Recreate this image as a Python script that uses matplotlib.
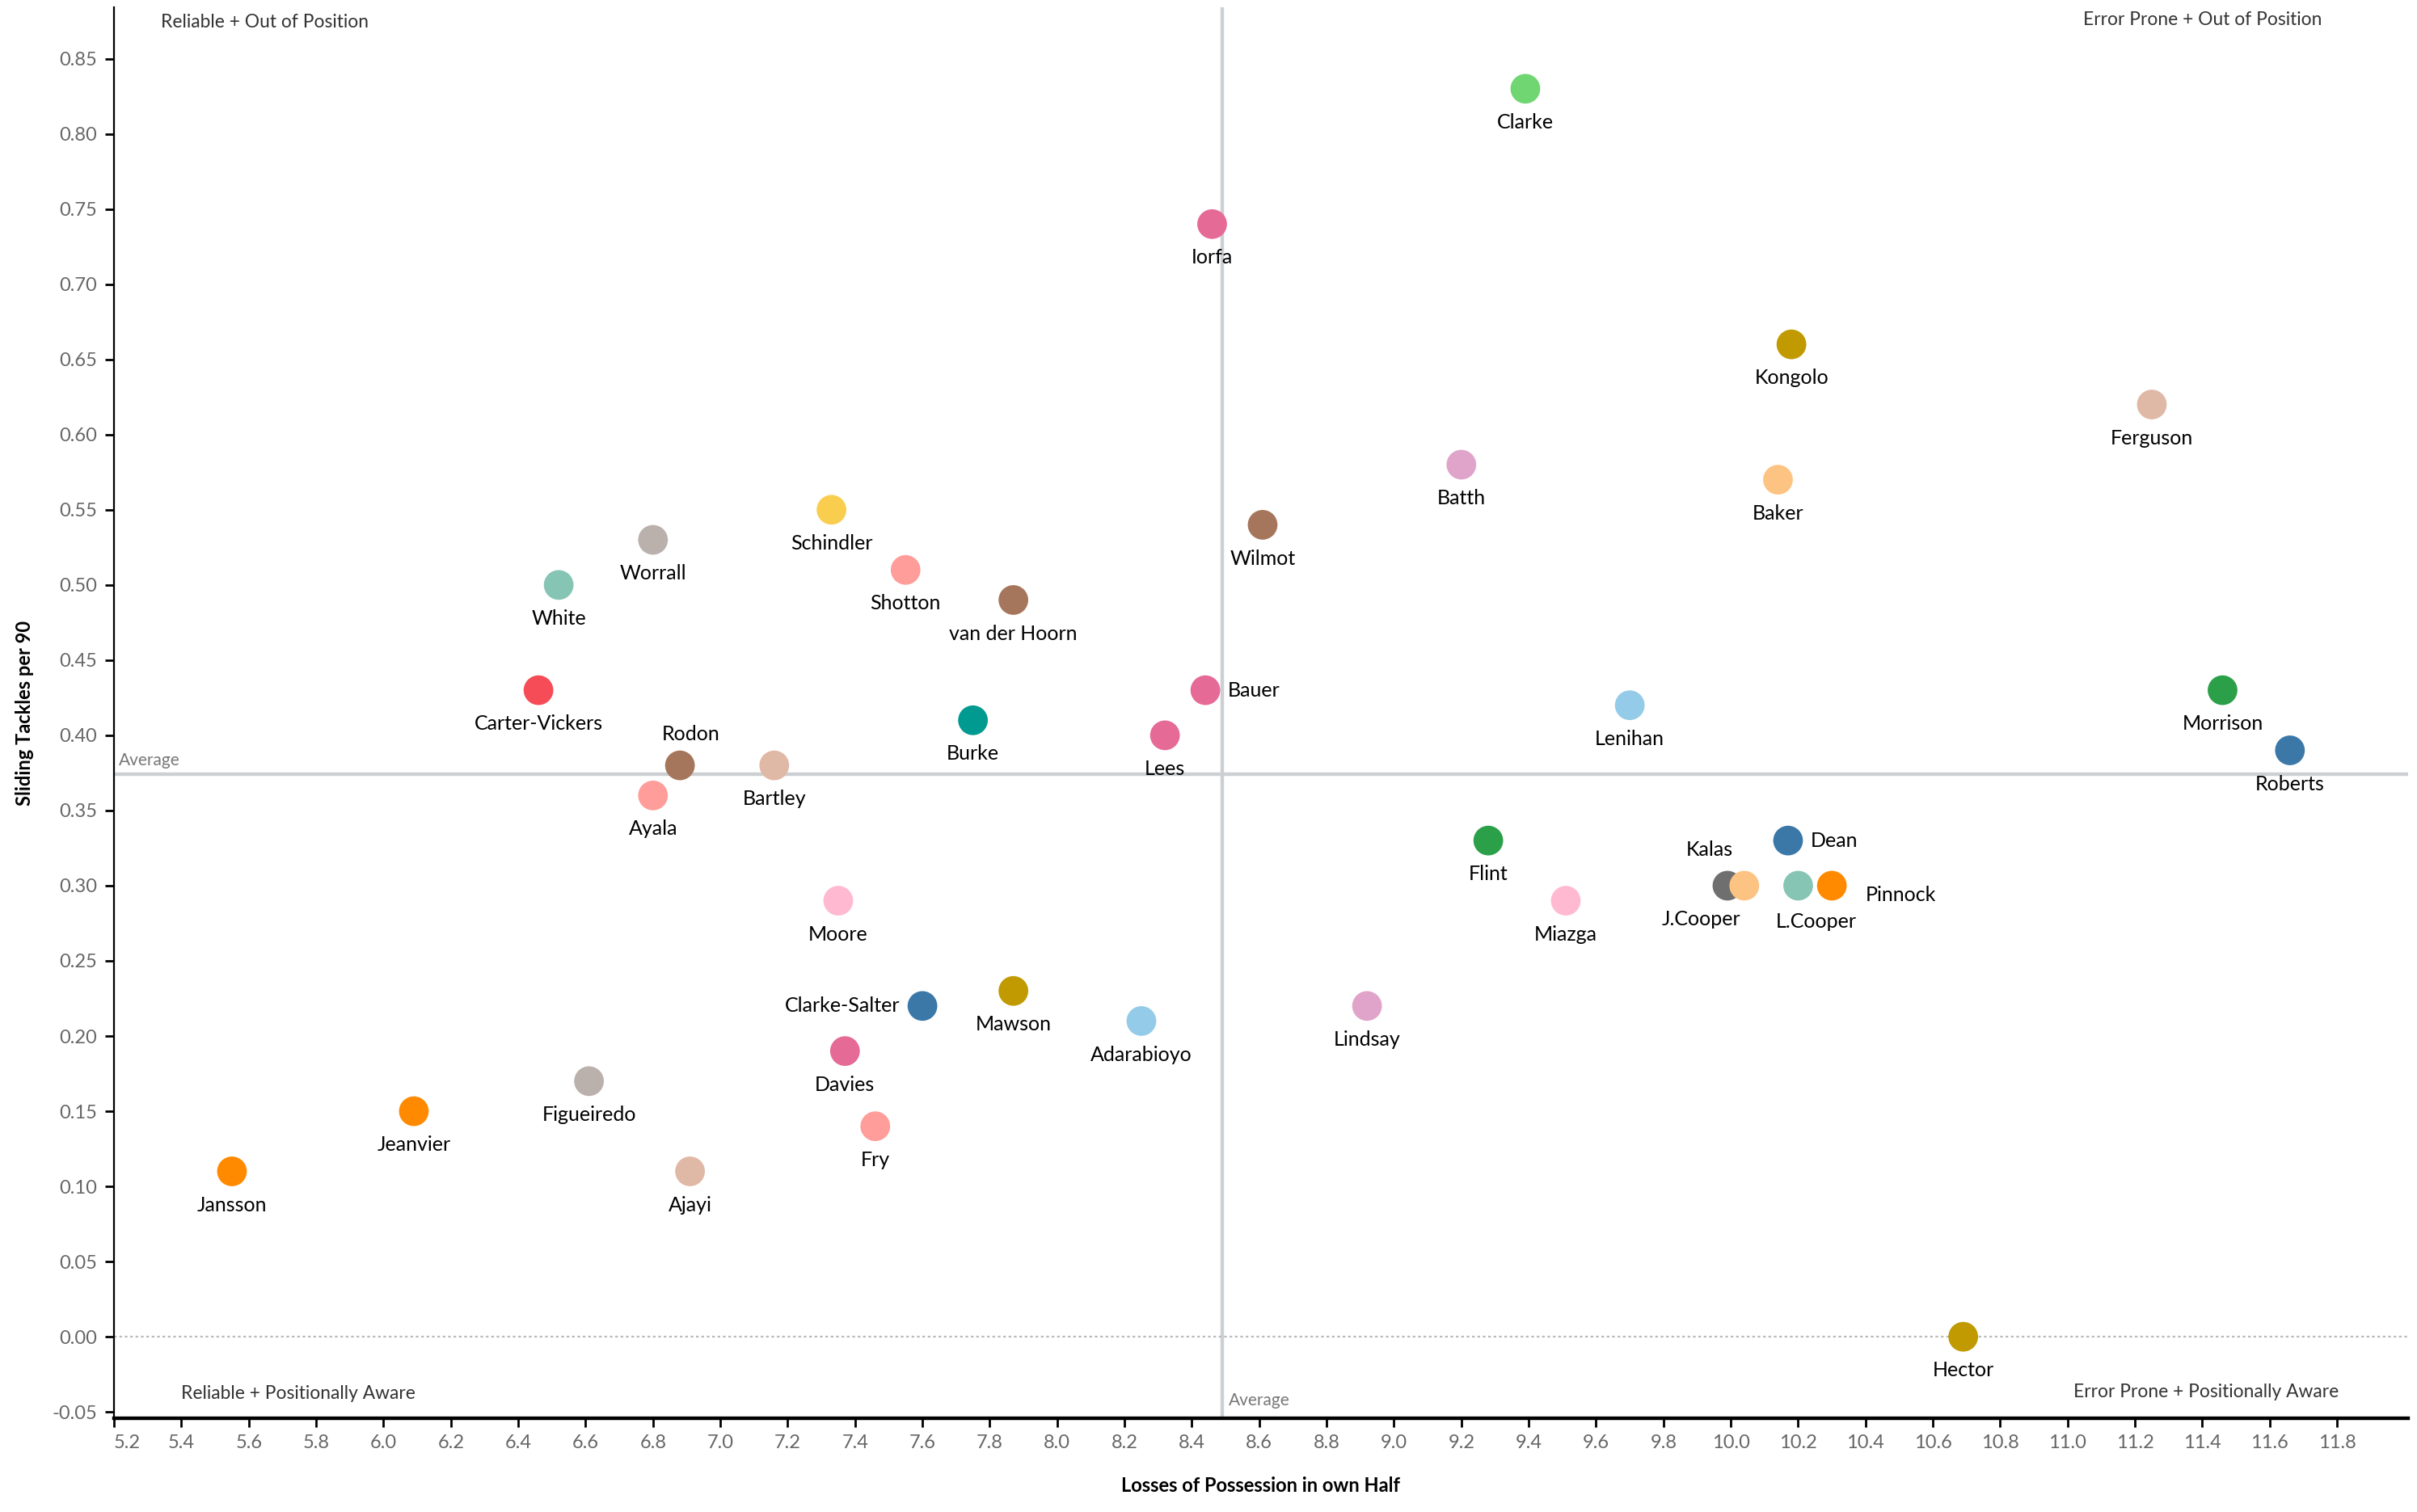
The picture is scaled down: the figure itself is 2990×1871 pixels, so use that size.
import matplotlib.pyplot as plt
import numpy as np

plt.rcParams['font.family'] = ['Lato', 'DejaVu Sans']

# data
players = ['Clarke', 'Iorfa', 'Kongolo', 'Ferguson', 'Batth', 'Baker', 'Wilmot',
           'Schindler', 'Worrall', 'White', 'Shotton', 'van der Hoorn',
           'Carter-Vickers', 'Bauer', 'Burke', 'Lees', 'Lenihan', 'Morrison',
           'Roberts', 'Rodon', 'Bartley', 'Ayala', 'Flint', 'Dean', 'Kalas',
           'J.Cooper', 'L.Cooper', 'Pinnock', 'Miazga', 'Moore', 'Clarke-Salter',
           'Mawson', 'Adarabioyo', 'Lindsay', 'Davies', 'Figueiredo', 'Jeanvier',
           'Fry', 'Jansson', 'Ajayi', 'Hector']
losses = [9.39, 8.46, 10.18, 11.25, 9.20, 10.14, 8.61,
          7.33, 6.80, 6.52, 7.55, 7.87,
          6.46, 8.44, 7.75, 8.32, 9.70, 11.46,
          11.66, 6.88, 7.16, 6.80, 9.28, 10.17, 9.99,
          10.04, 10.20, 10.30, 9.51, 7.35, 7.60,
          7.87, 8.25, 8.92, 7.37, 6.61, 6.09,
          7.46, 5.55, 6.91, 10.69]
tackles = [0.83, 0.74, 0.66, 0.62, 0.58, 0.57, 0.54,
           0.55, 0.53, 0.50, 0.51, 0.49,
           0.43, 0.43, 0.41, 0.40, 0.42, 0.43,
           0.39, 0.38, 0.38, 0.36, 0.33, 0.33, 0.30,
           0.30, 0.30, 0.30, 0.29, 0.29, 0.22,
           0.23, 0.21, 0.22, 0.19, 0.17, 0.15,
           0.14, 0.11, 0.11, 0.00]
colors = ['#6FD672', '#E66A96', '#C09A00', '#E0B8A6', '#E0A4CB', '#FDC383', '#A6765C',
          '#F9CE4E', '#BAB0AC', '#86C5B4', '#FF9D9A', '#A6765C',
          '#F54C57', '#E66A96', '#009A90', '#E66A96', '#94CBE8', '#2CA048',
          '#3B78A8', '#A6765C', '#E0B8A6', '#FF9D9A', '#2CA048', '#3B78A8', '#6F6F6F',
          '#FDC383', '#86C5B4', '#FF8A00', '#FFBAD2', '#FFBAD2', '#3B78A8',
          '#C09A00', '#94CBE8', '#E0A4CB', '#E66A96', '#BAB0AC', '#FF8A00',
          '#FF9D9A', '#FF8A00', '#E0B8A6', '#C09A00']
avg_losses = 8.49
avg_tackles = 0.374

# label placement (offset in points, ha, va); default below the dot
label_pos = {
    'Bauer': (10, 0, 'left', 'center'),
    'Dean': (10, 0, 'left', 'center'),
    'Pinnock': (15, -4, 'left', 'center'),
    'Clarke-Salter': (-10, 0, 'right', 'center'),
    'Rodon': (5, 14, 'center', 'center'),
    'Kalas': (-8, 16, 'center', 'center'),
    'J.Cooper': (-19, -15, 'center', 'center'),
    'L.Cooper': (8, -16, 'center', 'center'),
}

fig = plt.figure(figsize=(14.95, 9.355), dpi=200)
ax = fig.add_axes([0.0472, 0.0622, 0.949, 0.9328])

ax.axvline(avg_losses, color='#CDD0D3', lw=1.6, zorder=1)
ax.axhline(avg_tackles, color='#CDD0D3', lw=1.6, zorder=1)
ax.axhline(0, color='#BBBBBB', lw=0.8, ls=(0, (1.5, 1.5)), zorder=1)

ax.scatter(losses, tackles, s=175, c=colors, edgecolors='none', zorder=3)

for name, x, y in zip(players, losses, tackles):
    dx, dy, ha, va = label_pos.get(name, (0, -15, 'center', 'center'))
    ax.annotate(name, (x, y), xytext=(dx, dy), textcoords='offset points',
                ha=ha, va=va, fontsize=9, color='black', zorder=4)

xt = np.arange(5.2, 11.81, 0.2)
ax.set_xlim(5.2, 12.01)
ax.set_ylim(-0.054, 0.884)
ax.set_xticks(xt)
ax.set_xticklabels([f'{v:.1f}' for v in xt])
ax.get_xticklabels()[0].set_horizontalalignment('left')
yt = np.arange(-0.05, 0.851, 0.05)
ax.set_yticks(yt)
ax.set_yticklabels([f'{v:.2f}' for v in yt])
ax.tick_params(labelsize=8.5, labelcolor='#666666', length=4, width=1, color='black')

for s in ['top', 'right']:
    ax.spines[s].set_visible(False)
ax.spines['left'].set_linewidth(0.8)
ax.spines['bottom'].set_linewidth(1.6)

ax.set_xlabel('Losses of Possession in own Half', fontsize=8.5, fontweight='bold', labelpad=11)
ax.set_ylabel('Sliding Tackles per 90', fontsize=8.5, fontweight='bold', labelpad=8)

# average labels
ax.text(5.215, avg_tackles + 0.004, 'Average', fontsize=7.5, color='#777777', ha='left', va='bottom')
ax.text(avg_losses + 0.02, -0.048, 'Average', fontsize=7.5, color='#777777', ha='left', va='bottom')

# quadrant labels
qc = '#333333'
ax.text(5.34, 0.874, 'Reliable + Out of Position', fontsize=8.2, color=qc, ha='left', va='center')
ax.text(11.40, 0.876, 'Error Prone + Out of Position', fontsize=8.2, color=qc, ha='center', va='center')
ax.text(5.4, -0.038, 'Reliable + Positionally Aware', fontsize=8.2, color=qc, ha='left', va='center')
ax.text(11.41, -0.037, 'Error Prone + Positionally Aware', fontsize=8.2, color=qc, ha='center', va='center')

fig.savefig('out.png', dpi=200)
